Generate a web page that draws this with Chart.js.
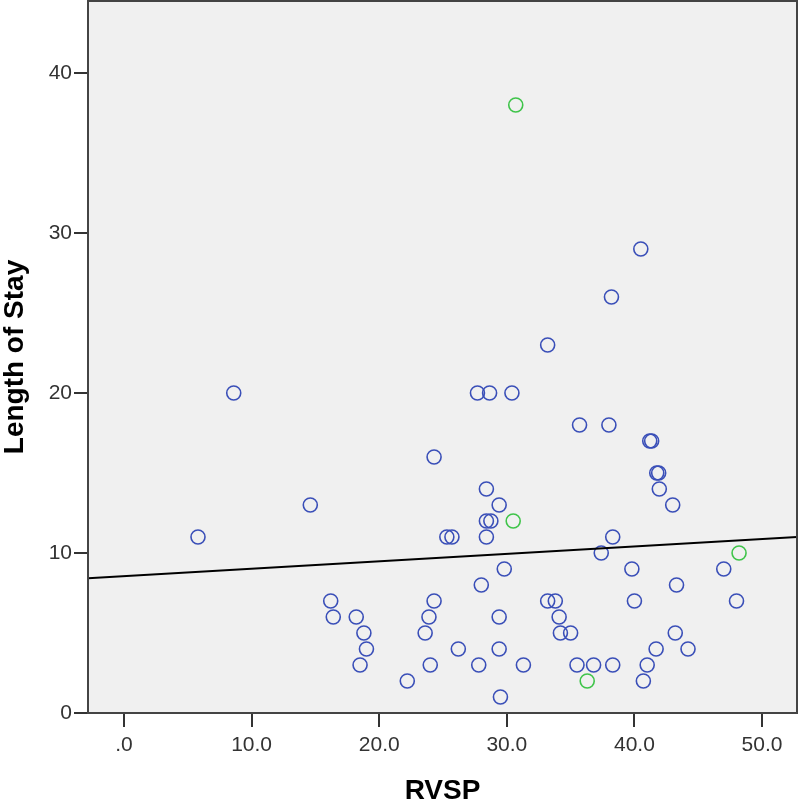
<!DOCTYPE html>
<html><head><meta charset="utf-8">
<script src="https://cdn.jsdelivr.net/npm/chart.js@4.4.1/dist/chart.umd.min.js"></script>
<style>html,body{margin:0;padding:0;background:#fff}canvas{display:block}</style>
</head><body>
<canvas id="c" width="800" height="803"></canvas>
<script>
// ---- data ----
const rvspBlue = [5.8, 8.6, 14.6, 16.2, 16.4, 18.2, 18.8, 19.0, 18.5, 22.2,
  24.3, 24.3, 23.9, 23.6, 24.0, 25.3, 25.7, 26.2, 27.7, 28.65,
  30.4, 27.8, 28.0, 28.4, 29.4, 28.4, 28.75, 28.4, 29.8, 29.4,
  29.4, 29.5, 31.3, 33.2, 33.2, 33.8, 34.1, 34.2, 35.0, 35.5,
  35.7, 36.8, 37.4, 38.0, 38.2, 38.3, 38.3, 39.8, 40.0, 40.5,
  40.7, 41.0, 41.2, 41.35, 41.7, 41.75, 41.9, 41.95, 43.0, 43.3,
  43.2, 44.2, 47.0, 48.0];
const losBlue = [11, 20, 13, 7, 6, 6, 5, 4, 3, 2,
  16, 7, 6, 5, 3, 11, 11, 4, 20, 20,
  20, 3, 8, 14, 13, 12, 12, 11, 9, 6,
  4, 1, 3, 23, 7, 7, 6, 5, 5, 3,
  18, 3, 10, 18, 26, 11, 3, 9, 7, 29,
  2, 3, 17, 17, 4, 15, 15, 14, 13, 8,
  5, 4, 9, 7];
const rvspGreen = [30.7, 30.5, 48.2, 36.3];
const losGreen = [38, 12, 10, 2];
const fitX = [-2.82, 52.74];
const fitY = [8.42, 11.0];
const xRange = [-2.82, 52.74];
const yRange = [0, 44.5];
const xTicks = [0, 10, 20, 30, 40, 50];
const xTickLabels = ['.0', '10.0', '20.0', '30.0', '40.0', '50.0'];
const yTicks = [0, 10, 20, 30, 40];
const yTickLabels = ['0', '10', '20', '30', '40'];
const xTitle = 'RVSP';
const yTitle = 'Length of Stay';

// ---- chart ----
const FONT = "'Liberation Sans', Arial, sans-serif";
const toPts = (xs, ys) => xs.map((x, i) => ({x, y: ys[i]}));
const noPad = s => { s.paddingTop = 0; s.paddingBottom = 0; s.paddingLeft = 0; s.paddingRight = 0; };

const frame = {
  id: 'frame',
  beforeDraw(chart) {
    const {ctx, chartArea: a} = chart;
    ctx.save();
    ctx.fillStyle = '#f0f0f0';
    ctx.fillRect(a.left, a.top, a.right - a.left, a.bottom - a.top);
    ctx.restore();
  },
  afterDraw(chart) {
    const {ctx, chartArea: a} = chart;
    ctx.save();
    ctx.strokeStyle = '#444';
    ctx.lineWidth = 2;
    ctx.strokeRect(a.left, a.top, a.right - a.left, a.bottom - a.top);
    ctx.restore();
  }
};

new Chart(document.getElementById('c'), {
  type: 'scatter',
  data: {
    datasets: [
      {
        type: 'line',
        data: toPts(fitX, fitY),
        borderColor: '#000',
        borderWidth: 2,
        pointRadius: 0,
        fill: false,
        tension: 0
      },
      {
        data: toPts(rvspBlue, losBlue),
        pointRadius: 7,
        pointBorderWidth: 1.6,
        borderColor: '#3a4fb8',
        backgroundColor: 'rgba(0,0,0,0)'
      },
      {
        data: toPts(rvspGreen, losGreen),
        pointRadius: 7,
        pointBorderWidth: 1.6,
        borderColor: '#3fc44a',
        backgroundColor: 'rgba(0,0,0,0)'
      }
    ]
  },
  options: {
    responsive: false,
    animation: false,
    devicePixelRatio: 1,
    layout: {autoPadding: false, padding: {left: 0, right: 3, top: 1, bottom: 0}},
    plugins: {legend: {display: false}, tooltip: {enabled: false}},
    scales: {
      x: {
        type: 'linear',
        min: xRange[0], max: xRange[1],
        afterBuildTicks: s => { s.ticks = xTicks.map(v => ({value: v})); },
        afterFit: s => { s.height = 90; noPad(s); },
        ticks: {
          callback: v => xTickLabels[xTicks.indexOf(v)],
          font: {family: FONT, size: 21},
          color: '#333',
          padding: 6,
          maxRotation: 0,
          autoSkip: false
        },
        grid: {drawOnChartArea: false, drawTicks: true, tickLength: 14, color: '#333', lineWidth: 2},
        border: {display: false},
        title: {
          display: true, text: xTitle, color: '#000',
          font: {family: FONT, size: 28, weight: 'bold', lineHeight: 0.86},
          padding: {top: 0, bottom: 0}
        }
      },
      y: {
        type: 'linear',
        min: yRange[0], max: yRange[1],
        afterBuildTicks: s => { s.ticks = yTicks.map(v => ({value: v})); },
        afterFit: s => { s.width = 88; noPad(s); },
        ticks: {
          callback: v => yTickLabels[yTicks.indexOf(v)],
          font: {family: FONT, size: 21},
          color: '#333',
          padding: 2,
          autoSkip: false
        },
        grid: {drawOnChartArea: false, drawTicks: true, tickLength: 14, color: '#333', lineWidth: 2},
        border: {display: false},
        title: {
          display: true, text: yTitle, color: '#000',
          font: {family: FONT, size: 28, weight: 'bold', lineHeight: 1.07},
          padding: {top: 0, bottom: 0}
        }
      }
    }
  },
  plugins: [frame]
});
</script>
</body></html>
